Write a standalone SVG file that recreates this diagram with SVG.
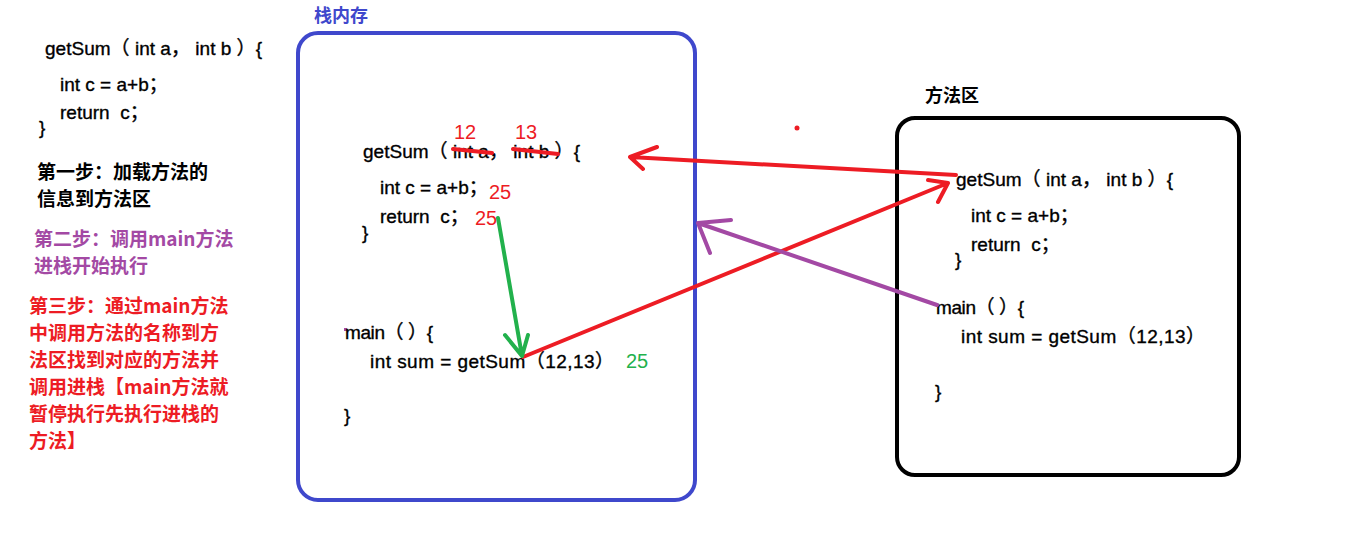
<svg xmlns="http://www.w3.org/2000/svg" width="1360" height="538" viewBox="0 0 1360 538">
<style>
.code{font-family:"Liberation Sans","Noto Sans CJK SC",sans-serif;font-size:19px;fill:#000;stroke:#000;stroke-width:0.35;white-space:pre;}
.cn{font-family:"Noto Sans CJK SC",sans-serif;font-size:19px;font-weight:bold;}
.lbl{font-family:"Noto Sans CJK SC",sans-serif;font-size:18px;font-weight:bold;}
.red{fill:#ED1C24;}
.num{font-family:"Liberation Sans",sans-serif;font-size:20px;}
.ln{fill:none;stroke-width:4;stroke-linecap:round;stroke-linejoin:round;}
</style>
<rect width="1360" height="538" fill="#fff"/>
<g id="notes">
<text class="code" x="45" y="55" textLength="217" lengthAdjust="spacing">getSum（ int a， int b ）{</text>
<text class="code" x="60" y="91">int c = a+b；</text>
<text class="code" x="60" y="119">return  c；</text>
<text class="code" x="39" y="134">}</text>
<text class="cn" x="37" y="179" fill="#000">第一步：加载方法的</text>
<text class="cn" x="37" y="206" fill="#000">信息到方法区</text>
<text class="cn" x="34" y="246" fill="#A349A4">第二步：调用main方法</text>
<text class="cn" x="34" y="273" fill="#A349A4">进栈开始执行</text>
<text class="cn" x="29" y="313" fill="#ED1C24">第三步：通过main方法</text>
<text class="cn" x="29" y="340" fill="#ED1C24">中调用方法的名称到方</text>
<text class="cn" x="29" y="367" fill="#ED1C24">法区找到对应的方法并</text>
<text class="cn" x="29" y="394" fill="#ED1C24">调用进栈【main方法就</text>
<text class="cn" x="29" y="421" fill="#ED1C24">暂停执行先执行进栈的</text>
<text class="cn" x="29" y="448" fill="#ED1C24">方法】</text>
</g>
<g id="stack">
<rect x="298" y="33" width="397" height="467" rx="20" fill="none" stroke="#3F48CC" stroke-width="4"/>
<text class="lbl" x="314" y="22" fill="#3F48CC">栈内存</text>
<text class="code" x="363" y="158" textLength="217" lengthAdjust="spacing">getSum（ int a， int b ）{</text>
<text class="num red" x="454" y="139">12</text>
<text class="num red" x="515" y="139">13</text>
<path class="ln" d="M453 149 L492 153 M513 149 L558 154" stroke="#ED1C24"/>
<text class="code" x="380" y="194">int c = a+b；</text>
<text class="num red" x="489" y="199">25</text>
<text class="code" x="380" y="223">return  c；</text>
<text class="num red" x="475" y="225">25</text>
<text class="code" x="362" y="239">}</text>
<rect x="344" y="328" width="3" height="3" fill="#A349A4"/>
<text class="code" x="345" y="339" textLength="88" lengthAdjust="spacing">main（ ）{</text>
<text class="code" x="370" y="368" textLength="244" lengthAdjust="spacing">int sum = getSum（12,13）</text>
<text class="num" x="626" y="368" fill="#22B14C">25</text>
<text class="code" x="344" y="422">}</text>
</g>
<g id="method-area">
<rect x="897" y="118" width="342" height="357" rx="18" fill="none" stroke="#000" stroke-width="4"/>
<text class="lbl" x="925" y="102" fill="#000">方法区</text>
<text class="code" x="956" y="186" textLength="217" lengthAdjust="spacing">getSum（ int a， int b ）{</text>
<text class="code" x="971" y="222">int c = a+b；</text>
<text class="code" x="971" y="251">return  c；</text>
<text class="code" x="955" y="266">}</text>
<text class="code" x="936" y="314" textLength="88" lengthAdjust="spacing">main（ ）{</text>
<text class="code" x="961" y="343" textLength="244" lengthAdjust="spacing">int sum = getSum（12,13）</text>
<text class="code" x="935" y="398">}</text>
</g>
<g id="connectors">
<path class="ln" stroke="#ED1C24" d="M956 175 L630 157 M657 147 L630 157 L643 169"/>
<path class="ln" stroke="#ED1C24" d="M523 357 L948 183 M928 180 L948 183 L938 202"/>
<path class="ln" stroke="#A349A4" d="M937 305 L698 223 M731 220 L698 223 L710 253"/>
<path class="ln" stroke="#22B14C" d="M498 218 L522 356 M505 335 L522 356 L528 335"/>
<circle cx="797" cy="128" r="2.5" fill="#ED1C24"/>
</g>
</svg>
